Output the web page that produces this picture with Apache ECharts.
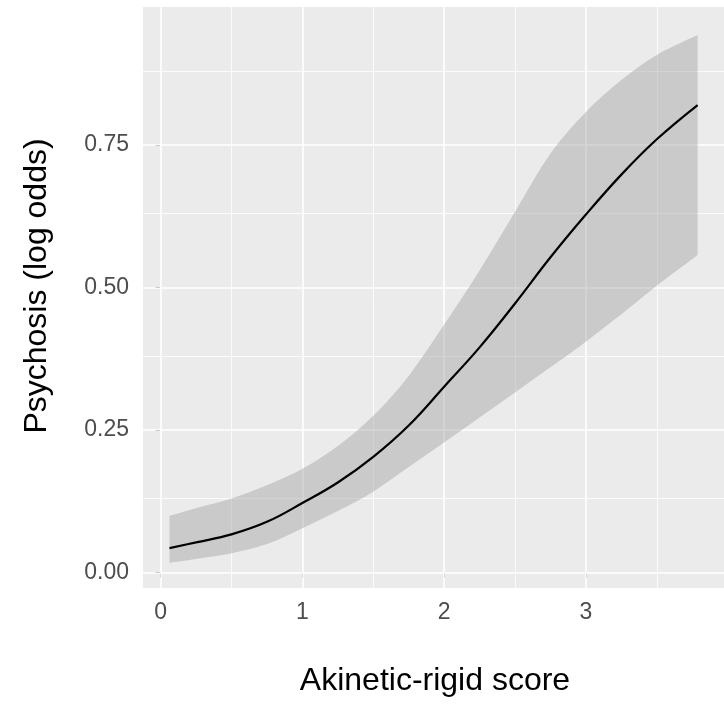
<!DOCTYPE html>
<html>
<head>
<meta charset="utf-8">
<script src="https://cdn.jsdelivr.net/npm/echarts@6/dist/echarts.min.js"></script>
<style>
html,body{margin:0;padding:0;background:#fff;}
#c{width:724px;height:706px;}
</style>
</head>
<body>
<div id="c"></div>
<script>
// Data
var xVals = [0.063, 0.25, 0.5, 0.75, 1.0, 1.25, 1.5, 1.75, 2.0, 2.25, 2.5, 2.75, 3.0, 3.25, 3.5, 3.788];
var fitVals = [0.043, 0.053, 0.067, 0.089, 0.122, 0.158, 0.203, 0.258, 0.326, 0.395, 0.472, 0.553, 0.628, 0.698, 0.76, 0.82];
var upperVals = [0.0995, 0.113, 0.13, 0.153, 0.182, 0.222, 0.275, 0.345, 0.435, 0.53, 0.633, 0.735, 0.808, 0.864, 0.908, 0.943];
var lowerVals = [0.0175, 0.024, 0.034, 0.05, 0.078, 0.108, 0.142, 0.185, 0.228, 0.272, 0.316, 0.36, 0.405, 0.453, 0.503, 0.557];

var xTicks = [0, 1, 2, 3];
var xMinorGrid = [0.5, 1.5, 2.5, 3.5];
var yTicks = [0, 0.25, 0.5, 0.75];
var yMinorGrid = [0.125, 0.375, 0.625, 0.875];

var xTitle = 'Akinetic-rigid score';
var yTitle = 'Psychosis (log odds)';

var chart = echarts.init(document.getElementById('c'));

function pairs(ys) { return xVals.map(function (x, i) { return [x, ys[i]]; }); }

var gridLines = [];
xTicks.forEach(function (v) { gridLines.push({ xAxis: v, lineStyle: { width: 1.6 } }); });
xMinorGrid.forEach(function (v) { gridLines.push({ xAxis: v, lineStyle: { width: 0.8 } }); });
yTicks.forEach(function (v) { gridLines.push({ yAxis: v, lineStyle: { width: 1.6 } }); });
yMinorGrid.forEach(function (v) { gridLines.push({ yAxis: v, lineStyle: { width: 0.8 } }); });

// Catmull-Rom style cubic path segments through pixel points
function splineSegs(pts) {
  var s = '';
  for (var i = 0; i < pts.length - 1; i++) {
    var p0 = pts[Math.max(i - 1, 0)], p1 = pts[i], p2 = pts[i + 1], p3 = pts[Math.min(i + 2, pts.length - 1)];
    var c1 = [p1[0] + (p2[0] - p0[0]) / 6, p1[1] + (p2[1] - p0[1]) / 6];
    var c2 = [p2[0] - (p3[0] - p1[0]) / 6, p2[1] - (p3[1] - p1[1]) / 6];
    s += ' C' + c1[0] + ' ' + c1[1] + ' ' + c2[0] + ' ' + c2[1] + ' ' + p2[0] + ' ' + p2[1];
  }
  return s;
}

var font = '"Liberation Sans", Arial, sans-serif';

chart.setOption({
  animation: false,
  backgroundColor: '#ffffff',
  grid: {
    left: 143, top: 7, width: 586, height: 581,
    show: true, backgroundColor: '#EBEBEB', borderWidth: 0
  },
  xAxis: {
    type: 'value', min: -0.124, max: 3.974,
    axisLine: { show: false },
    splitLine: { show: false },
    axisTick: { show: true, customValues: xTicks, length: 5, lineStyle: { color: '#333333', width: 1 } },
    axisLabel: { customValues: xTicks, margin: 13, color: '#4D4D4D', fontSize: 23, fontFamily: font,
      formatter: function (v) { return String(v); } }
  },
  yAxis: {
    type: 'value', min: -0.027, max: 0.992,
    axisLine: { show: false },
    splitLine: { show: false },
    axisTick: { show: true, customValues: yTicks, length: 5, lineStyle: { color: '#333333', width: 1 } },
    axisLabel: { customValues: yTicks, margin: 14, color: '#4D4D4D', fontSize: 23, fontFamily: font,
      formatter: function (v) { return v.toFixed(2); } }
  },
  graphic: [
    { type: 'text', x: 435, y: 681, silent: true,
      style: { text: xTitle, fill: '#000', font: '32px ' + font, textAlign: 'center', textVerticalAlign: 'middle' } },
    { type: 'text', x: 37, y: 286, rotation: Math.PI / 2, silent: true,
      style: { text: yTitle, fill: '#000', font: '32px ' + font, textAlign: 'center', textVerticalAlign: 'middle' } }
  ],
  series: [
    {
      type: 'line', data: [], symbol: 'none', silent: true, z: 1,
      markLine: {
        silent: true, symbol: 'none', z: 1, animation: false,
        label: { show: false },
        lineStyle: { color: '#ffffff', type: 'solid' },
        data: gridLines
      }
    },
    {
      type: 'custom', z: 2, silent: true,
      data: [0],
      renderItem: function (params, api) {
        var up = xVals.map(function (x, i) { return api.coord([x, upperVals[i]]); });
        var lo = xVals.map(function (x, i) { return api.coord([x, lowerVals[i]]); }).reverse();
        var d = 'M' + up[0][0] + ' ' + up[0][1] + splineSegs(up) +
          ' L' + lo[0][0] + ' ' + lo[0][1] + splineSegs(lo) + ' Z';
        return {
          type: 'path',
          shape: { pathData: d },
          style: { fill: 'rgba(153,153,153,0.4)', stroke: 'none' }
        };
      }
    },
    {
      type: 'line', data: pairs(fitVals), symbol: 'none', smooth: 0.4, z: 3,
      lineStyle: { color: '#000000', width: 2.2 }
    }
  ]
});
</script>
</body>
</html>
